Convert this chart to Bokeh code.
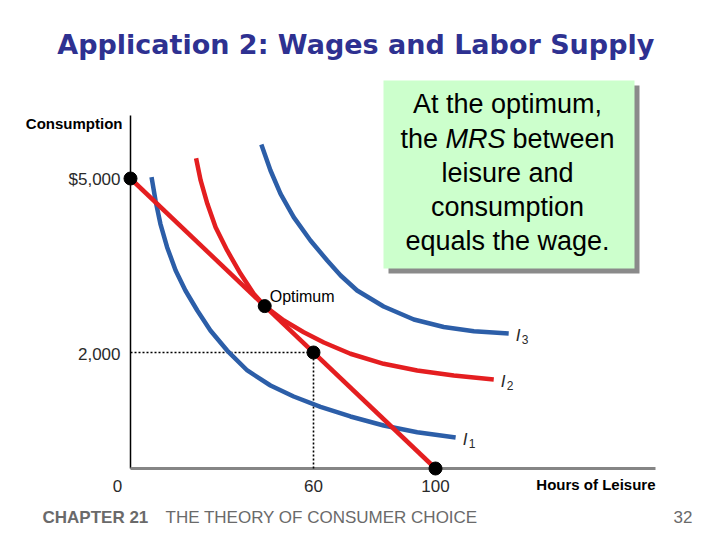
from bokeh.plotting import figure
from bokeh.models import Range1d
from bokeh.core.properties import value
from bokeh.embed import file_html
from bokeh.resources import INLINE

# ---------------- data (hours of leisure, consumption in $) ----------------
budget_leisure = [0, 100]
budget_consumption = [5000, 0]

i1_leisure = [6.9, 8.2, 9.8, 12.0, 14.8, 18.0, 21.9, 26.2, 31.7, 38.3, 45.9, 53.5,
              62.3, 72.1, 83.0, 94.0, 106.6]
i1_consumption = [5022, 4621, 4219, 3816, 3414, 3069, 2724, 2379, 2034, 1690, 1431, 1241,
                  1062, 897, 741, 626, 534]

i2_leisure = [21.5, 23.0, 25.2, 27.9, 31.7, 36.1, 40.4, 44.0, 50.3, 56.8, 63.4, 72.1,
              83.0, 94.0, 106.0, 119.1]
i2_consumption = [5350, 4966, 4564, 4160, 3759, 3357, 3012, 2800, 2552, 2350, 2172, 1978,
                  1805, 1690, 1603, 1534]

i3_leisure = [42.9, 45.9, 49.2, 53.5, 59.0, 64.5, 68.9, 74.3, 83.0, 92.9, 102.7, 112.6, 124.0]
i3_consumption = [5586, 5138, 4736, 4333, 3931, 3586, 3328, 3069, 2793, 2569, 2440, 2366, 2328]

point_leisure = [0, 44, 60, 100]
point_consumption = [5000, 2800, 2000, 0]

x_ticks = [60, 100]
x_tick_labels = ["60", "100"]
y_ticks = [2000, 5000]
y_tick_labels = ["2,000", "$5,000"]

curve_names = ["I", "I", "I"]
curve_subs = ["1", "2", "3"]

# ---------------- layout helpers (page pixel -> data) ----------------
XS, YS = 3.05, 0.058
def X(px):
    return (px - 130) / XS
def Y(py):
    return (468 - py) / YS

W, H = 712, 532
p = figure(width=W, height=H, output_backend="svg", toolbar_location=None,
           x_range=Range1d(X(0), X(W)), y_range=Range1d(Y(H), Y(0)),
           x_axis_type=None, y_axis_type=None, min_border=0)
p.grid.visible = False
p.outline_line_color = None
p.background_fill_color = "white"
p.border_fill_color = "white"

RED = "#e41e20"
BLUE = "#2c5ea8"
TXT = "#2a2a2a"
SANS = value("Liberation Sans")

# title
p.text(x=[X(360)], y=[Y(44)], text=["Application 2:  Wages and Labor Supply"],
       text_font=value("DejaVu Sans"), text_font_style="bold", text_font_size="27px",
       text_color="#2e3191", text_align="center", text_baseline="middle")

# axes lines
p.segment(x0=[0], y0=[0], x1=[0], y1=[Y(115)], line_color="black", line_width=1.5)
p.segment(x0=[0], y0=[0], x1=[X(655)], y1=[0], line_color="#858585", line_width=3)

# dotted guides
p.segment(x0=[0, point_leisure[2]], y0=[point_consumption[2], 0],
          x1=[point_leisure[2], point_leisure[2]], y1=[point_consumption[2], point_consumption[2]],
          line_color="black", line_width=1.6, line_dash="2 2")

# indifference curves and budget line
p.line(i1_leisure, i1_consumption, line_color=BLUE, line_width=4.5, line_join="round")
p.line(i3_leisure, i3_consumption, line_color=BLUE, line_width=4.5, line_join="round")
p.line(i2_leisure, i2_consumption, line_color=RED, line_width=4.5, line_join="round")
p.line(budget_leisure, budget_consumption, line_color=RED, line_width=4.5)

p.scatter(point_leisure, point_consumption, size=13, color="black")

# tick labels
p.text(x=x_ticks, y=[0] * len(x_ticks), text=x_tick_labels, text_font=SANS,
       text_font_size="17px", text_color=TXT, text_align="center", text_baseline="middle",
       y_offset=17)
p.text(x=[0], y=[0], text=["0"], text_font=SANS, text_font_size="17px", text_color=TXT,
       text_align="center", text_baseline="middle", x_offset=-13, y_offset=17)
p.text(x=[0] * len(y_ticks), y=y_ticks, text=y_tick_labels, text_font=SANS,
       text_font_size="17px", text_color=TXT, text_align="right", text_baseline="middle",
       x_offset=-10, y_offset=1)

# axis titles
p.text(x=[X(122)], y=[Y(123)], text=["Consumption"], text_font=SANS, text_font_style="bold",
       text_font_size="15px", text_color="black", text_align="right", text_baseline="middle")
p.text(x=[X(655)], y=[Y(484)], text=["Hours of Leisure"], text_font=SANS, text_font_style="bold",
       text_font_size="15px", text_color="black", text_align="right", text_baseline="middle")

# optimum label
p.text(x=[point_leisure[1]], y=[point_consumption[1]], text=["Optimum"], text_font=SANS,
       text_font_size="16px", text_color="black", text_align="left", text_baseline="middle",
       x_offset=5, y_offset=-10)

# curve labels (I with subscript)
lab_x = [i1_leisure[-1], i2_leisure[-1], i3_leisure[-1]]
lab_y = [i1_consumption[-1], i2_consumption[-1], i3_consumption[-1]]
p.text(x=lab_x, y=lab_y, text=curve_names, text_font=SANS, text_font_style="italic",
       text_font_size="17px", text_color=TXT, text_align="left", text_baseline="middle",
       x_offset=7, y_offset=2)
p.text(x=lab_x, y=lab_y, text=curve_subs, text_font=SANS,
       text_font_size="12px", text_color=TXT, text_align="left", text_baseline="middle",
       x_offset=13, y_offset=6)

# annotation box with shadow
p.quad(left=[X(388)], right=[X(639)], top=[Y(85)], bottom=[Y(273)], fill_color="#8a8a8a",
       line_color=None)
p.quad(left=[X(383)], right=[X(634)], top=[Y(80)], bottom=[Y(268)], fill_color="#ccffcc",
       line_color=None)
box_lines = ["At the optimum,", None, "leisure and", "consumption", "equals the wage."]
box_y = [103, 138, 172, 206, 240]
for t, yy in zip(box_lines, box_y):
    if t is None:
        continue
    p.text(x=[X(507)], y=[Y(yy)], text=[t], text_font=SANS, text_font_size="27px",
           text_color="black", text_align="center", text_baseline="middle")
p.text(x=[X(400)], y=[Y(138)], text=["the"], text_font=SANS, text_font_size="27px",
       text_color="black", text_align="left", text_baseline="middle")
p.text(x=[X(445)], y=[Y(138)], text=["MRS"], text_font=SANS, text_font_size="27px",
       text_font_style="italic", text_color="black", text_align="left", text_baseline="middle")
p.text(x=[X(512)], y=[Y(138)], text=["between"], text_font=SANS, text_font_size="27px",
       text_color="black", text_align="left", text_baseline="middle")

# footer
FOOT = "#6a6a6a"
p.text(x=[X(42)], y=[Y(517)], text=["CHAPTER 21"], text_font=SANS, text_font_style="bold",
       text_font_size="17px", text_color=FOOT, text_align="left", text_baseline="middle")
p.text(x=[X(165)], y=[Y(517)], text=["THE THEORY OF CONSUMER CHOICE"], text_font=SANS,
       text_font_size="17px", text_color=FOOT, text_align="left", text_baseline="middle")
p.text(x=[X(692)], y=[Y(516)], text=["32"], text_font=SANS,
       text_font_size="17px", text_color=FOOT, text_align="right", text_baseline="middle")

open("out.html", "w").write(file_html(p, INLINE))
